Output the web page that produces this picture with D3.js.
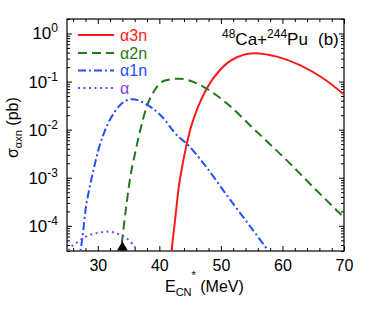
<!DOCTYPE html>
<html>
<head>
<meta charset="utf-8">
<script src="https://cdn.jsdelivr.net/npm/d3@7"></script>
<style>
  html, body { margin: 0; padding: 0; background: #fff; }
  svg { display: block; font-family: "Liberation Sans", Arial, Helvetica, sans-serif; }
</style>
</head>
<body>
<svg id="chart" width="374" height="320"></svg>
<script>
// ---- data ----
const xMajorTicks = [30, 40, 50, 60, 70];
const xMinorTicks = [26, 28, 32, 34, 36, 38, 42, 44, 46, 48, 52, 54, 56, 58, 62, 64, 66, 68];
const yMajorExps = [-4, -3, -2, -1, 0];

const seriesNames = ["\u03b13n", "\u03b12n", "\u03b11n", "\u03b1"];
const seriesColors = ["#ff1a1a", "#1f7a1a", "#2050ff", "#7f3ff5"];

// alpha 3n
const e3 = [41.8, 42.0, 42.55, 43.1, 43.9, 45.0, 46.3, 47.7, 49.85, 52.6, 55.5, 59.1, 62.85, 66.6, 70.0];
const s3 = [2.0e-5, 3.2e-5, 1.3e-4, 5.6e-4, 2.3e-3, 9.8e-3, 0.030, 0.072, 0.174, 0.32, 0.39, 0.33, 0.22, 0.117, 0.054];
// alpha 2n
const e2 = [33.65, 34.15, 34.7, 35.2, 36.05, 36.9, 37.95, 39.3, 40.9, 43.2, 45.8, 47.7, 51.0, 55.3, 60.7, 65.1, 70.0];
const s2 = [2.2e-5, 8.1e-5, 3.0e-4, 8.9e-4, 3.2e-3, 9.8e-3, 0.030, 0.068, 0.105, 0.115, 0.095, 0.071, 0.035, 0.0105, 2.3e-3, 6.2e-4, 1.5e-4];
// alpha 1n
const e1 = [26.9, 27.65, 28.0, 28.6, 29.3, 30.1, 31.2, 32.8, 34.4, 35.6, 37.7, 40.2, 43.1, 44.4, 46.9, 51.5, 55.3, 58.5];
const s1 = [1.8e-5, 8.1e-5, 2.1e-4, 5.6e-4, 1.45e-3, 3.8e-3, 9.8e-3, 0.024, 0.039, 0.043, 0.035, 0.020, 7.1e-3, 5.2e-3, 2.2e-3, 3.5e-4, 7.9e-5, 2.2e-5];
// alpha
const e0 = [24.8, 25.2, 26.8, 28.5, 30.1, 31.45, 33.3, 35.0, 36.3, 36.8];
const s0 = [2.4e-5, 3.0e-5, 4.7e-5, 6.3e-5, 7.2e-5, 7.6e-5, 6.8e-5, 5.1e-5, 3.2e-5, 2.5e-5];

const markerE = [34.0];

// ---- layout ----
const L = 67, R = 344, T = 19, B = 251;
const svg = d3.select("#chart");
const x = d3.scaleLinear().domain([25, 70]).range([L, R]);
const y = d3.scaleLog().domain([3e-5, 2]).range([B, T]);

const yMajor = yMajorExps.map(e => Math.pow(10, e));
const yMinor = [];
for (let e = -5; e <= 0; e++) for (let m = 2; m <= 9; m++) {
  const v = m * Math.pow(10, e);
  if (v >= 3e-5 && v <= 2) yMinor.push(v);
}

svg.append("defs").append("clipPath").attr("id", "clip")
  .append("rect").attr("x", L).attr("y", T).attr("width", R - L).attr("height", B - T);

function styleAxis(g) {
  g.select(".domain").remove();
  g.selectAll(".tick line").attr("stroke", "#000").attr("stroke-width", 1);
}

// bottom
svg.append("g").attr("transform", `translate(0,${B})`)
  .call(d3.axisBottom(x).tickValues(xMajorTicks).tickSize(-5).tickPadding(9).tickFormat(d3.format("d")))
  .call(styleAxis)
  .call(g => g.selectAll("text").attr("font-size", 16).attr("fill", "#000").attr("font-family", "Liberation Sans, Arial, sans-serif"));
svg.append("g").attr("transform", `translate(0,${B})`)
  .call(d3.axisBottom(x).tickValues(xMinorTicks).tickSize(-3).tickFormat(""))
  .call(styleAxis);
// top
svg.append("g").attr("transform", `translate(0,${T})`)
  .call(d3.axisTop(x).tickValues(xMajorTicks).tickSize(-5).tickFormat(""))
  .call(styleAxis);
svg.append("g").attr("transform", `translate(0,${T})`)
  .call(d3.axisTop(x).tickValues(xMinorTicks).tickSize(-3).tickFormat(""))
  .call(styleAxis);
// left
svg.append("g").attr("transform", `translate(${L},0)`)
  .call(d3.axisLeft(y).tickValues(yMajor).tickSize(-5).tickFormat(""))
  .call(styleAxis);
svg.append("g").attr("transform", `translate(${L},0)`)
  .call(d3.axisLeft(y).tickValues(yMinor).tickSize(-3).tickFormat(""))
  .call(styleAxis);
// right
svg.append("g").attr("transform", `translate(${R},0)`)
  .call(d3.axisRight(y).tickValues(yMajor).tickSize(-5).tickFormat(""))
  .call(styleAxis);
svg.append("g").attr("transform", `translate(${R},0)`)
  .call(d3.axisRight(y).tickValues(yMinor).tickSize(-3).tickFormat(""))
  .call(styleAxis);

// y tick labels with superscripts
const yl = svg.append("g").attr("font-size", 17).attr("fill", "#000");
yMajorExps.forEach(e => {
  const t = yl.append("text").attr("x", 58).attr("y", y(Math.pow(10, e)) + 6).attr("text-anchor", "end");
  t.append("tspan").text("10");
  t.append("tspan").attr("font-size", 12).attr("dy", -7).text(e === 0 ? "0" : "-" + Math.abs(e));
});

// frame
svg.append("rect").attr("x", L).attr("y", T).attr("width", R - L).attr("height", B - T)
  .attr("fill", "none").attr("stroke", "#000").attr("stroke-width", 1.2);

// curves
const series = [
  { e: e3, s: s3, dash: null },
  { e: e2, s: s2, dash: "9,5" },
  { e: e1, s: s1, dash: "8,3,2,3" },
  { e: e0, s: s0, dash: "2,3.5" }
];
const line = d3.line().x(d => x(d[0])).y(d => y(d[1])).curve(d3.curveMonotoneX);
const plot = svg.append("g").attr("clip-path", "url(#clip)");
series.forEach((sr, i) => {
  plot.append("path")
    .datum(sr.e.map((v, j) => [v, sr.s[j]]))
    .attr("d", line)
    .attr("fill", "none")
    .attr("stroke", seriesColors[i])
    .attr("stroke-width", 2)
    .attr("stroke-dasharray", sr.dash);
});

// triangle marker
svg.selectAll(".mk").data(markerE).enter().append("path")
  .attr("d", d3.symbol().type(d3.symbolTriangle).size(50))
  .attr("transform", d => `translate(${x(d)},${B - 3.5})`)
  .attr("fill", "#000");

// legend
const leg = svg.append("g");
const legY = [35, 53, 70.5, 88];
seriesNames.forEach((n, i) => {
  leg.append("line").attr("x1", 78).attr("x2", 114).attr("y1", legY[i]).attr("y2", legY[i])
    .attr("stroke", seriesColors[i]).attr("stroke-width", 2)
    .attr("stroke-dasharray", series[i].dash);
  leg.append("text").attr("x", 120).attr("y", legY[i] + 5.5).attr("font-size", 16)
    .attr("fill", seriesColors[i]).text(n);
});

// reaction label
const rl = svg.append("text").attr("x", 222).attr("y", 45).attr("font-size", 17).attr("fill", "#000");
rl.append("tspan").attr("font-size", 12).attr("dy", -7).text("48");
rl.append("tspan").attr("dy", 7).text("Ca+");
rl.append("tspan").attr("font-size", 12).attr("dy", -7).text("244");
rl.append("tspan").attr("dy", 7).text("Pu");
rl.append("tspan").attr("x", 318).text("(b)");

// x title
const xt = svg.append("text").attr("x", 165).attr("y", 292).attr("font-size", 16).attr("fill", "#000");
xt.append("tspan").text("E");
xt.append("tspan").attr("font-size", 11).attr("dy", 4).text("CN");
xt.append("tspan").attr("font-size", 11).attr("dy", -17).text("*");
xt.append("tspan").attr("dy", 13).text(" (MeV)");

// y title
const ytt = svg.append("text").attr("transform", "translate(18,158) rotate(-90)")
  .attr("font-size", 16).attr("fill", "#000");
ytt.append("tspan").text("\u03c3");
ytt.append("tspan").attr("font-size", 11).attr("dy", 4).text("\u03b1xn");
ytt.append("tspan").attr("dy", -4).text(" (pb)");
</script>
</body>
</html>
